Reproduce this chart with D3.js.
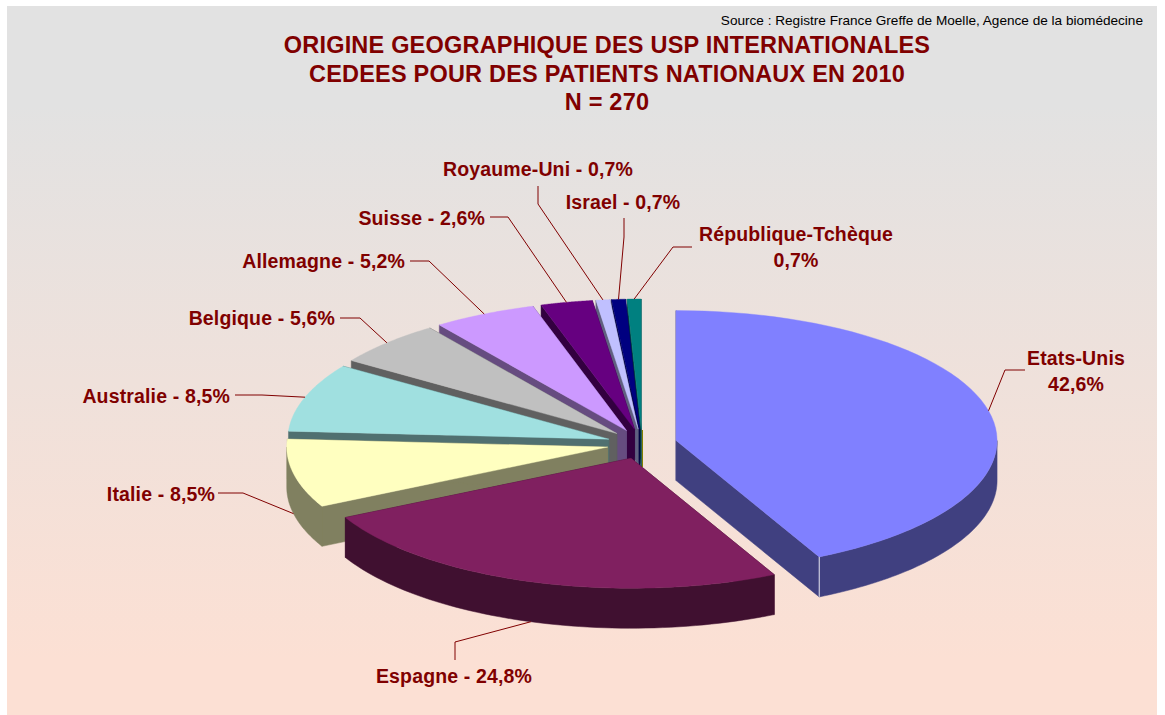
<!DOCTYPE html>
<html><head><meta charset="utf-8">
<script src="https://cdnjs.cloudflare.com/ajax/libs/d3/7.8.5/d3.min.js"></script>
<style>html,body{margin:0;padding:0;background:#fff}svg{display:block}text{font-family:"Liberation Sans",Arial,sans-serif}</style>
</head><body><div id="chart"></div>
<script>
const categories=["Etats-Unis","Espagne","Italie","Australie","Belgique","Allemagne","Suisse","Royaume-Uni","Israel","République-Tchèque"];
const values=[42.6,24.8,8.5,8.5,5.6,5.2,2.6,0.7,0.7,0.7];
const valueLabels=["42,6%","24,8%","8,5%","8,5%","5,6%","5,2%","2,6%","0,7%","0,7%","0,7%"];
const topColors=["#8080FF","#802060","#FFFFC0","#A0E0E0","#C0C0C0","#CC99FF","#660080","#C0C0FF","#000080","#008080"];
const sideColors=["#404080","#401030","#808060","#507070","#606060","#664C80","#330040","#606080","#000040","#004040"];
const titleLines=["ORIGINE GEOGRAPHIQUE DES USP INTERNATIONALES","CEDEES POUR DES PATIENTS NATIONAUX EN 2010","N = 270"];
const sourceText="Source : Registre France Greffe de Moelle, Agence de la biomédecine";

// Annotation layout (label anchor, line elbows), separate from the data
const labelLayout=[
 {two:true,x:1076,y:[365,391],anchor:"middle",elbow:[[1025,370],[1005,370]]},
 {x:454,y:[683],anchor:"middle",elbow:[[455,660],[455,642]],bottom:true},
 {x:215,y:[501],anchor:"end",elbow:[[218,493],[243,493]],bottom:true},
 {x:230,y:[403],anchor:"end",elbow:[[235,395],[262,395]]},
 {x:335,y:[325],anchor:"end",elbow:[[340,318],[360,318]]},
 {x:405,y:[268],anchor:"end",elbow:[[410,261],[429,261]]},
 {x:485,y:[225],anchor:"end",elbow:[[490,217],[508,217]]},
 {x:538,y:[176],anchor:"middle",elbow:[[538,186],[538,204]]},
 {x:623,y:[209],anchor:"middle",elbow:[[624,218],[624,237]]},
 {two:true,x:796,y:[241,267],anchor:"middle",elbow:[[692,247],[673,247]]}
];

const W=1165,H=715;
const G={cx:642,cy:444,rx:321,ry:130,ex:35,ey:15,depth:40};

const svg=d3.select("#chart").append("svg").attr("width",W).attr("height",H);
const defs=svg.append("defs");
const grad=defs.append("linearGradient").attr("id","bg").attr("x1",0).attr("y1",0).attr("x2",0).attr("y2",1);
grad.append("stop").attr("offset","0.14").attr("stop-color","#E2E2E2");
grad.append("stop").attr("offset","0.92").attr("stop-color","#FCE0D4");
svg.append("rect").attr("x",7).attr("y",6).attr("width",1150).attr("height",709).attr("fill","url(#bg)");

const pie=d3.pie().sort(null).value(d=>d)(values);
const px=a=>Math.sin(a)*G.rx, py=a=>-Math.cos(a)*G.ry;
const slices=pie.map((p,i)=>{
  const mid=(p.startAngle+p.endAngle)/2;
  return {i,a0:p.startAngle,a1:p.endAngle,mid,
    ax:G.cx+Math.sin(mid)*G.ex, ay:G.cy-Math.cos(mid)*G.ey,
    name:categories[i],val:valueLabels[i]};
});
const rim=(s,a)=>[s.ax+px(a),s.ay+py(a)];
const arcPts=(s,a0,a1)=>d3.range(0,61).map(k=>rim(s,a0+(a1-a0)*k/60));
const line=d3.line();

const g=svg.append("g");
// back-to-front painter order: top slices first, then clockwise inward to the two front slices
const order=[9,8,7,6,5,4,3,2,0,1];
order.forEach(i=>{
  const s=slices[i],d=G.depth,side=sideColors[i];
  const sg=g.append("g");
  const edge=a=>{const r=rim(s,a);return [[s.ax,s.ay],r,[r[0],r[1]+d],[s.ax,s.ay+d]];};
  [s.a0,s.a1].forEach(a=>{
    sg.append("path").attr("d",line(edge(a))+"Z").attr("fill",side).attr("stroke",side).attr("stroke-width",0.5);
  });
  const visible0=Math.max(s.a0,Math.PI/2),visible1=Math.min(s.a1,Math.PI*1.5);
  if(visible1>visible0){
    const top=arcPts(s,visible0,visible1);
    const bot=top.slice().reverse().map(p=>[p[0],p[1]+d]);
    sg.append("path").attr("d",line(top.concat(bot))+"Z").attr("fill",side).attr("stroke",side).attr("stroke-width",0.5);
  }
  const pts=[[s.ax,s.ay]].concat(arcPts(s,s.a0,s.a1));
  sg.append("path").attr("d",line(pts)+"Z").attr("fill",topColors[i]).attr("stroke",topColors[i]).attr("stroke-width",0.4);
});
// light seam on the front corner of the first slice
{const s=slices[0],r=rim(s,s.a1);
 g.append("line").attr("x1",r[0]).attr("x2",r[0]).attr("y1",r[1]).attr("y2",r[1]+G.depth).attr("stroke","#E4E4F0").attr("stroke-width",1);}
// thin olive sliver left at the pie centre
g.append("line").attr("x1",G.cx+0.5).attr("x2",G.cx+0.5).attr("y1",G.cy-14).attr("y2",G.cy+23).attr("stroke","#808000").attr("stroke-width",1);

// leaders and labels
const tc="#800000";
labelLayout.forEach((l,i)=>{
  const s=slices[i];
  const r=rim(s,s.mid);
  const end=[r[0],r[1]+(l.bottom?G.depth:0)];
  svg.append("path").attr("d",line(l.elbow.concat([end]))).attr("fill","none").attr("stroke",tc).attr("stroke-width",1);
  const lines=l.two?[s.name,s.val]:[s.name+" - "+s.val];
  lines.forEach((t,k)=>{
    svg.append("text").attr("x",l.x).attr("y",l.y[k]).attr("text-anchor",l.anchor)
      .attr("font-size",19.5).attr("font-weight","bold").attr("letter-spacing",0.15).attr("fill",tc).text(t);
  });
});
// titles
const titleY=[53,82,110];
titleLines.forEach((t,k)=>{
  svg.append("text").attr("x",607).attr("y",titleY[k]).attr("text-anchor","middle")
    .attr("font-size",23.5).attr("font-weight","bold").attr("letter-spacing",0.2).attr("fill",tc).text(t);
});
svg.append("text").attr("x",1143).attr("y",25).attr("text-anchor","end").attr("font-size",13.6).attr("fill","#000").text(sourceText);
</script></body></html>
